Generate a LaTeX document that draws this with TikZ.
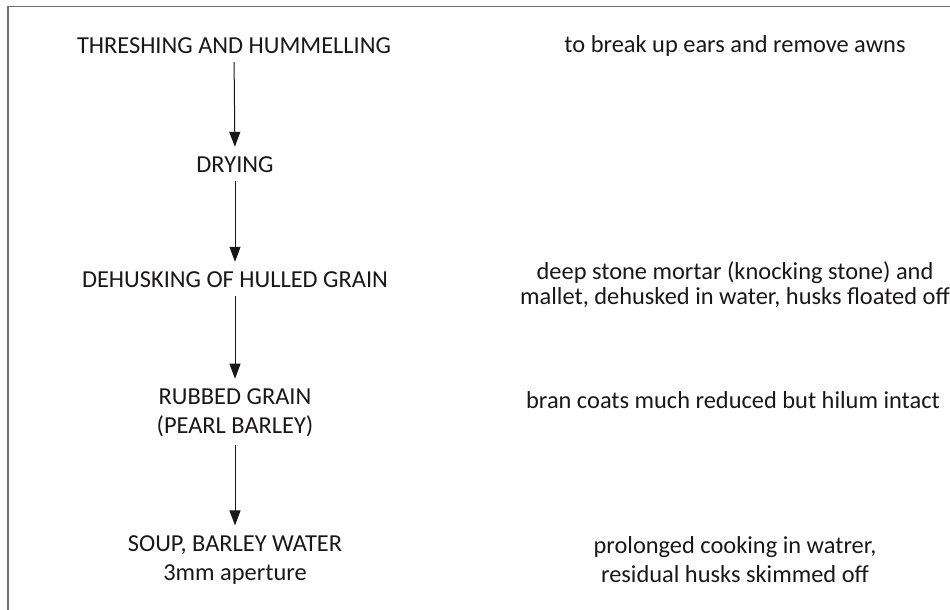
\documentclass[tikz,border=0pt]{standalone}
\usepackage{fontspec}
\setmainfont{Carlito}
\usetikzlibrary{arrows.meta}
\definecolor{ink}{HTML}{1A1718}
\definecolor{frame}{HTML}{6E6E6E}
\begin{document}
\begin{tikzpicture}[x=1pt, y=-1pt, >={Triangle[width=11pt,length=15pt]},
		font=\fontsize{24.4}{29}\selectfont, line join=round,
		stage/.style={text=ink, align=center, inner sep=0pt},
		note/.style={text=ink, align=center, inner sep=0pt},
		flow/.style={->, draw=ink, line width=1pt, shorten <=8pt, shorten >=10pt}]
	\useasboundingbox (0,0) rectangle (950,610);
	\clip (0,0) rectangle (950,610);
	\draw[frame, line width=1.5pt] (8,6.5) rectangle (990,650);
	% left column
	\node[stage] (thresh) at (234,46) {THRESHING AND HUMMELLING};
	\node[stage] (dry) at (235,165) {DRYING};
	\node[stage] (dehusk) at (235,280) {DEHUSKING OF HULLED GRAIN};
	\node[stage] (rubbed) at (235,413) {RUBBED GRAIN\\(PEARL BARLEY)};
	\node[stage] (soup) at (235,560) {SOUP, BARLEY WATER\\3mm aperture};
	% right column
	\node[note] (awns) at (735,46) {to break up ears and remove awns};
	\node[note, font=\fontsize{24.4}{25}\selectfont] (mortar) at (735,285) {deep stone mortar (knocking stone) and\\mallet, dehusked in water, husks floated off};
	\node[note] (bran) at (733,400) {bran coats much reduced but hilum intact};
	\node[note] (cook) at (735,560) {prolonged cooking in watrer,\\residual husks skimmed off};
	\foreach \a/\b in {thresh/dry,dry/dehusk,dehusk/rubbed,rubbed/soup}
		\draw[flow] (\a.south) -- (\b.north);
\end{tikzpicture}
\end{document}
